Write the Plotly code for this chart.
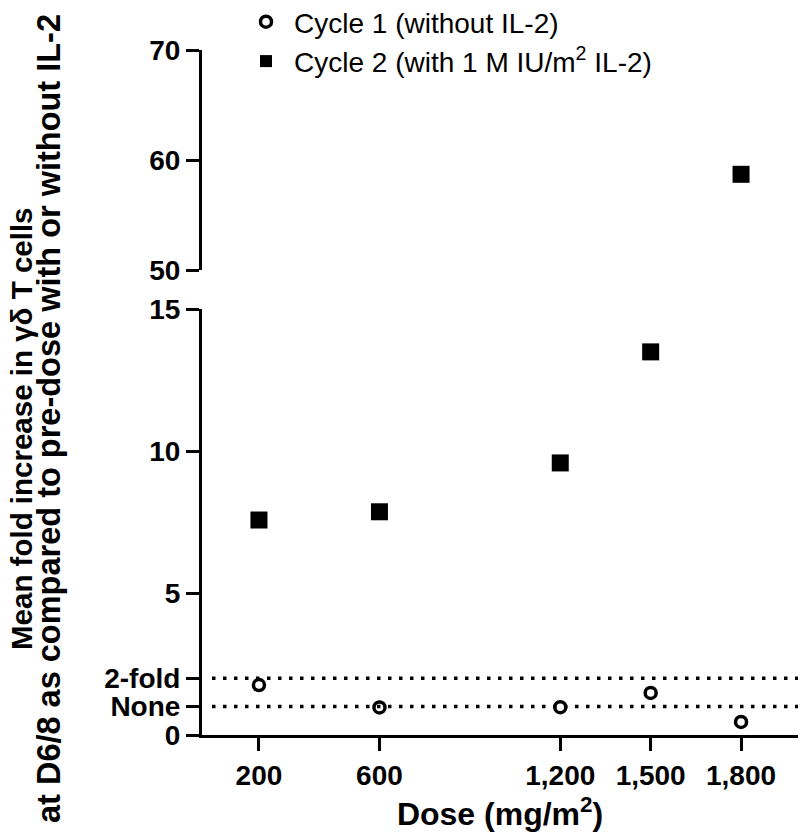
import plotly.graph_objects as go

# ---- data ----
doses = [200, 600, 1200, 1500, 1800]
dose_labels = ["200", "600", "1,200", "1,500", "1,800"]
cycle1 = [1.76, 0.97, 0.98, 1.48, 0.46]
cycle2 = [7.57, 7.86, 9.58, 13.49, 58.7]
lower_ticks = [0, 1, 2, 5, 10, 15]
lower_tick_labels = ["0", "None", "2-fold", "5", "10", "15"]
upper_ticks = [50, 60, 70]
upper_tick_labels = ["50", "60", "70"]
ref_levels = [2, 1]
name1 = "Cycle 1 (without IL-2)"
name2 = "Cycle 2 (with 1 M IU/m<sup>2</sup> IL-2)"
xtitle = "Dose (mg/m<sup>2</sup>)"
ytitle1 = "Mean fold increase in γδ T cells"
ytitle2 = "at D6/8 as compared to pre-dose with or without IL-2"

FONT = "Liberation Sans, Arial, Helvetica, sans-serif"
W, H = 800, 839
ML, MR, MT, MB = 202, 2, 50, 104
PW, PH = W - ML - MR, H - MT - MB

def px_x(px):  # page pixel -> paper x
    return (px - ML) / PW

def px_y(py):  # page pixel -> paper y
    return (H - MB - py) / PH

LOW_MAX = 15
lo_x = [d for d, v in zip(doses, cycle2) if v <= LOW_MAX]
lo_y = [v for v in cycle2 if v <= LOW_MAX]
hi_x = [d for d, v in zip(doses, cycle2) if v > LOW_MAX]
hi_y = [v for v in cycle2 if v > LOW_MAX]

circle_marker = dict(symbol="circle", size=11, color="white",
                     line=dict(color="black", width=3.5))
square_marker = dict(symbol="square", size=17, color="black",
                     line=dict(color="black", width=0))

fig = go.Figure()
fig.add_trace(go.Scatter(
    x=doses, y=cycle1, mode="markers", name=name1, xaxis="x", yaxis="y",
    marker=circle_marker, showlegend=False, cliponaxis=False,
))
fig.add_trace(go.Scatter(
    x=lo_x, y=lo_y, mode="markers", name=name2, xaxis="x", yaxis="y",
    marker=square_marker, showlegend=False, cliponaxis=False,
))
fig.add_trace(go.Scatter(
    x=hi_x, y=hi_y, mode="markers", name=name2, xaxis="x", yaxis="y2",
    marker=square_marker, showlegend=False, cliponaxis=False,
))
# legend entries (symbol sizes as in the reference key)
fig.add_trace(go.Scatter(
    x=[None], y=[None], mode="markers", name=name1,
    marker=dict(symbol="circle", size=11, color="white",
                line=dict(color="black", width=3.5)),
))
fig.add_trace(go.Scatter(
    x=[None], y=[None], mode="markers", name=name2,
    marker=dict(symbol="square", size=12, color="black",
                line=dict(color="black", width=0)),
))

for lv in ref_levels:
    fig.add_shape(type="line", xref="paper", yref="y",
                  x0=px_x(212), x1=1, y0=lv, y1=lv,
                  line=dict(color="black", width=3.5, dash="3.5px,7.5px"))

axis_common = dict(
    showline=True, linecolor="black", linewidth=3,
    ticks="outside", ticklen=13, tickwidth=3, tickcolor="black",
    showgrid=False, zeroline=False,
    tickfont=dict(family=FONT, size=28, color="black", weight="bold"),
)

fig.update_layout(
    width=W, height=H,
    margin=dict(l=ML, r=MR, t=MT, b=MB, autoexpand=False),
    paper_bgcolor="white", plot_bgcolor="white",
    font=dict(family=FONT, color="black"),
    xaxis=dict(
        domain=[0, 1], range=[11, 1989], anchor="y",
        tickmode="array", tickvals=doses, ticktext=dose_labels,
        title=dict(text=xtitle, standoff=14,
                   font=dict(family=FONT, size=32, color="black", weight="bold")),
        **axis_common,
    ),
    yaxis=dict(
        domain=[0, px_y(309)], range=[0, 15], anchor="x",
        tickmode="array", tickvals=lower_ticks, ticktext=lower_tick_labels,
        **axis_common,
    ),
    yaxis2=dict(
        domain=[px_y(270), 1], range=[50, 70], anchor="x",
        tickmode="array", tickvals=upper_ticks, ticktext=upper_tick_labels,
        **axis_common,
    ),
    showlegend=True,
    legend=dict(
        x=px_x(238), y=px_y(-3), xanchor="left", yanchor="top",
        bgcolor="rgba(0,0,0,0)", borderwidth=0,
        font=dict(family=FONT, size=28, color="black"),
        itemwidth=46, tracegroupgap=0,
    ),
    annotations=[
        dict(text=f"<b>{ytitle1}</b>", textangle=-90, xref="paper", yref="paper",
             x=px_x(21), y=px_y(429), xanchor="center", yanchor="middle",
             showarrow=False, font=dict(family=FONT, size=29.5, color="black")),
        dict(text=f"<b>{ytitle2}</b>", textangle=-90, xref="paper", yref="paper",
             x=px_x(49), y=px_y(419), xanchor="center", yanchor="middle",
             showarrow=False, font=dict(family=FONT, size=32.5, color="black")),
    ],
)

fig.write_html("out.html",
               config={"displayModeBar": False},
               post_script="document.body.style.margin='0';"
                           "document.body.style.overflow='hidden';")
